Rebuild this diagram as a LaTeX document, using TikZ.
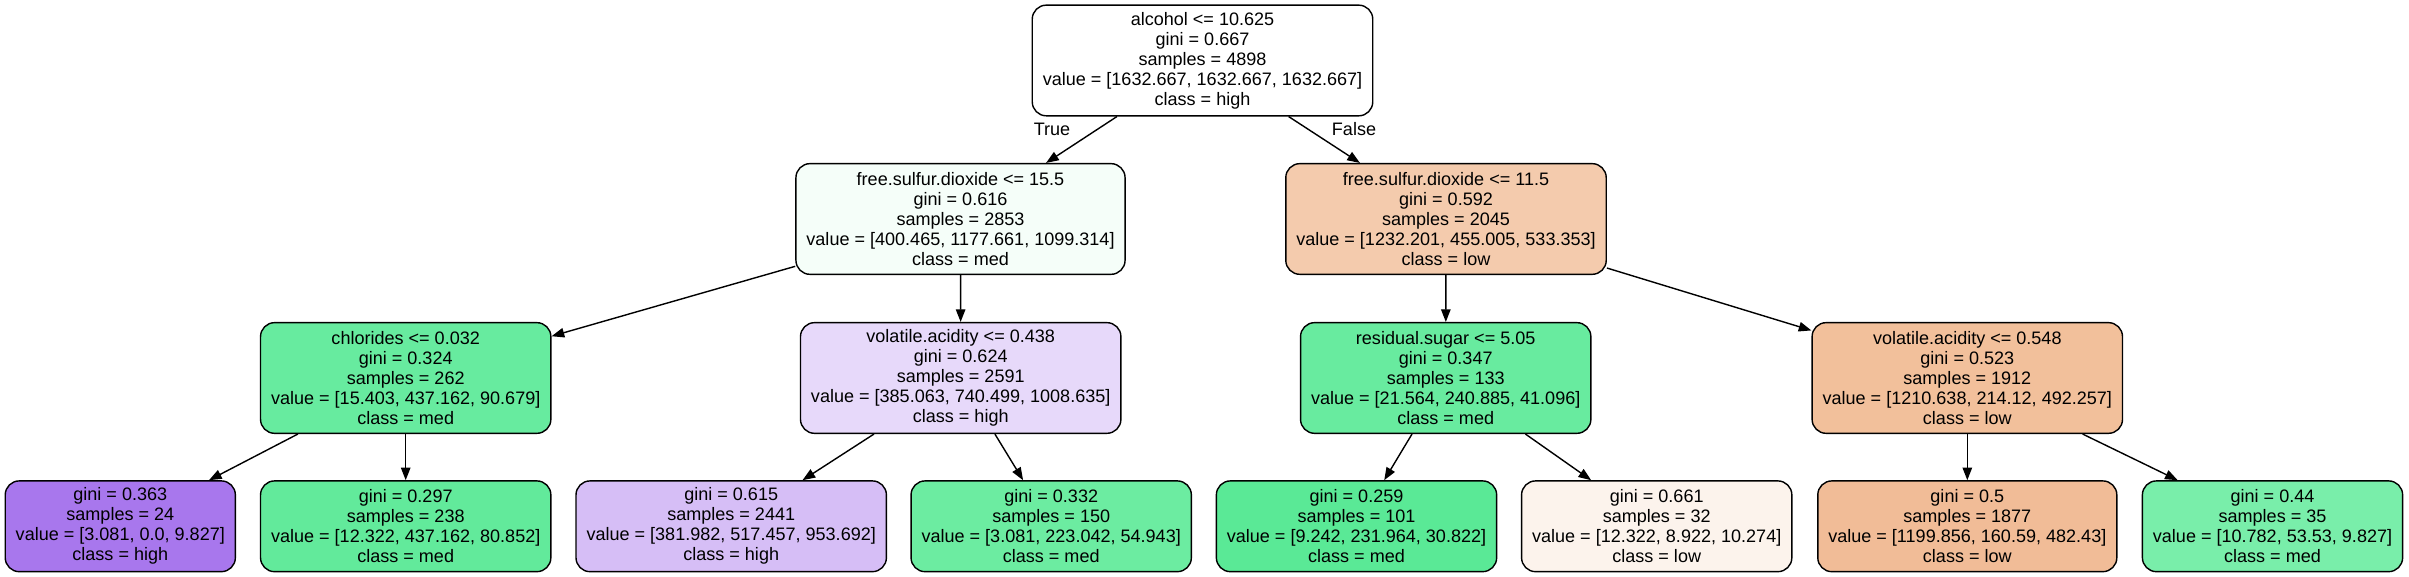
\documentclass[tikz,border=0pt]{standalone}
\usepackage{fontspec}
\setmainfont{Liberation Sans}
\usetikzlibrary{arrows.meta}
\definecolor{cRoot}{RGB}{255,255,255}
\definecolor{cFsdA}{RGB}{245,254,249}
\definecolor{cFsdB}{RGB}{244,203,173}
\definecolor{cChl}{RGB}{103,235,159}
\definecolor{cVaA}{RGB}{231,217,250}
\definecolor{cRes}{RGB}{104,235,159}
\definecolor{cVaB}{RGB}{242,192,155}
\definecolor{cL1}{RGB}{168,119,237}
\definecolor{cL2}{RGB}{98,234,155}
\definecolor{cL3}{RGB}{214,190,246}
\definecolor{cL4}{RGB}{108,236,161}
\definecolor{cL5}{RGB}{90,233,150}
\definecolor{cL6}{RGB}{252,243,236}
\definecolor{cL7}{RGB}{241,188,151}
\definecolor{cL8}{RGB}{121,238,170}
\tikzstyle{nS}=[rectangle,rounded corners=0.14cm,draw=black,line width=0.4pt,minimum height=1.106cm,inner xsep=0.105cm,inner ysep=0pt,align=center,font=\fontsize{5.13}{5.69}\selectfont]
\tikzstyle{lS}=[nS,minimum height=0.907cm]
\tikzstyle{eNS}=[inner sep=0pt,font=\fontsize{5.13}{5.69}\selectfont]
\tikzstyle{eArr}=[line width=0.4pt,-{Triangle[length=3.6pt,width=2.7pt]}]

\begin{document}
\begin{tikzpicture}[x=0.01cm,y=-0.01cm]
                \useasboundingbox (0,0) rectangle (2409,577);
                % splits
                \draw (1202.5,60.5) node[nS,fill=cRoot] (n0) {alcohol <= 10.625\\gini = 0.667\\samples = 4898\\value = [1632.667, 1632.667, 1632.667]\\class = high};
                \draw (960.5,219) node[nS,fill=cFsdA] (n1) {free.sulfur.dioxide <= 15.5\\gini = 0.616\\samples = 2853\\value = [400.465, 1177.661, 1099.314]\\class = med};
                \draw (1446,219) node[nS,fill=cFsdB] (n2) {free.sulfur.dioxide <= 11.5\\gini = 0.592\\samples = 2045\\value = [1232.201, 455.005, 533.353]\\class = low};
                \draw (405.7,378) node[nS,fill=cChl] (n3) {chlorides <= 0.032\\gini = 0.324\\samples = 262\\value = [15.403, 437.162, 90.679]\\class = med};
                \draw (960.7,378) node[nS,fill=cVaA] (n4) {volatile.acidity <= 0.438\\gini = 0.624\\samples = 2591\\value = [385.063, 740.499, 1008.635]\\class = high};
                \draw (1445.7,378) node[nS,fill=cRes] (n5) {residual.sugar <= 5.05\\gini = 0.347\\samples = 133\\value = [21.564, 240.885, 41.096]\\class = med};
                \draw (1967.3,378) node[nS,fill=cVaB] (n6) {volatile.acidity <= 0.548\\gini = 0.523\\samples = 1912\\value = [1210.638, 214.12, 492.257]\\class = low};
                % leaves
                \draw (120.3,526.3) node[lS,fill=cL1] (n7) {gini = 0.363\\samples = 24\\value = [3.081, 0.0, 9.827]\\class = high};
                \draw (405.7,526.3) node[lS,fill=cL2] (n8) {gini = 0.297\\samples = 238\\value = [12.322, 437.162, 80.852]\\class = med};
                \draw (731.2,526.3) node[lS,fill=cL3] (n9) {gini = 0.615\\samples = 2441\\value = [381.982, 517.457, 953.692]\\class = high};
                \draw (1051.2,526.3) node[lS,fill=cL4] (n10) {gini = 0.332\\samples = 150\\value = [3.081, 223.042, 54.943]\\class = med};
                \draw (1356.5,526.3) node[lS,fill=cL5] (n11) {gini = 0.259\\samples = 101\\value = [9.242, 231.964, 30.822]\\class = med};
                \draw (1656.7,526.3) node[lS,fill=cL6] (n12) {gini = 0.661\\samples = 32\\value = [12.322, 8.922, 10.274]\\class = low};
                \draw (1967.3,526.3) node[lS,fill=cL7] (n13) {gini = 0.5\\samples = 1877\\value = [1199.856, 160.59, 482.43]\\class = low};
                \draw (2272.5,526.3) node[lS,fill=cL8] (n14) {gini = 0.44\\samples = 35\\value = [10.782, 53.53, 9.827]\\class = med};
                % branch labels
                \draw (1052,129) node[eNS] (tTrue) {True};
                \draw (1354,129) node[eNS] (tFalse) {False};
                \path
                    (n0) edge[eArr] (n1)
                    (n0) edge[eArr] (n2)
                    (n1) edge[eArr] (n3)
                    (n1) edge[eArr] (n4)
                    (n2) edge[eArr] (n5)
                    (n2) edge[eArr] (n6)
                    (n3) edge[eArr] (n7)
                    (n3) edge[eArr] (n8)
                    (n4) edge[eArr] (n9)
                    (n4) edge[eArr] (n10)
                    (n5) edge[eArr] (n11)
                    (n5) edge[eArr] (n12)
                    (n6) edge[eArr] (n13)
                    (n6) edge[eArr] (n14)
                ;
        \end{tikzpicture}
\end{document}
